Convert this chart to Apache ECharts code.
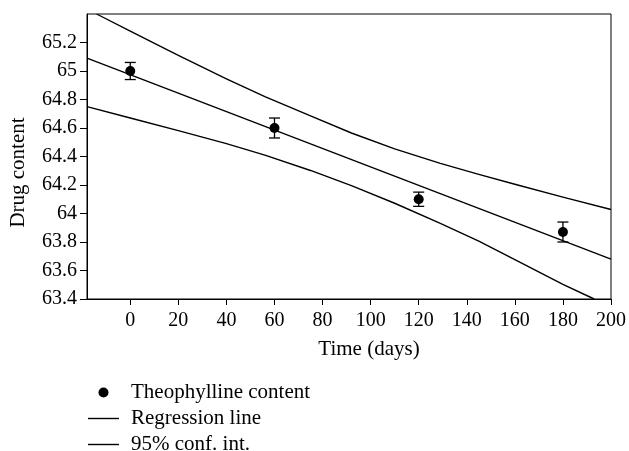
<!DOCTYPE html>
<html>
<head>
<meta charset="utf-8">
<script src="https://cdn.jsdelivr.net/npm/echarts@6/dist/echarts.min.js"></script>
<style>
html,body{margin:0;padding:0;background:#fff;}
#chart{width:629px;height:451px;}
</style>
</head>
<body>
<div id="chart"></div>
<script>
// Measured points
const days = [0, 60, 120, 180];
const content = [65.0, 64.6, 64.1, 63.87];
const errors = [0.06, 0.07, 0.05, 0.07];
// Regression line (read at plot edges)
const regX = [-18, 200];
const regY = [65.09, 63.68];
// 95% confidence band
const upperX = [-14, 0, 20, 40, 56, 75, 92, 110, 129, 145, 160, 180, 200];
const upperY = [65.4, 65.28, 65.11, 64.945, 64.82, 64.685, 64.565, 64.454, 64.352, 64.275, 64.205, 64.115, 64.028];
const lowerX = [-18, 0, 20, 40, 56, 75, 92, 110, 129, 145, 160, 180, 193];
const lowerY = [64.75, 64.67, 64.582, 64.49, 64.41, 64.302, 64.195, 64.072, 63.93, 63.806, 63.677, 63.503, 63.4];
// Tick labels
const xTicks = [0, 20, 40, 60, 80, 100, 120, 140, 160, 180, 200];
const yTicks = [63.4, 63.6, 63.8, 64, 64.2, 64.4, 64.6, 64.8, 65, 65.2];

const FONT = 'Liberation Serif';
const zip = (a, b) => a.map((v, i) => [v, b[i]]);
const LINE_ICON = 'path://M0,0H31V1.4H0Z';

const chart = echarts.init(document.getElementById('chart'));
chart.setOption({
  animation: false,
  backgroundColor: '#fff',
  textStyle: { fontFamily: FONT, color: '#000' },
  grid: { left: 87, right: 17, top: 14, height: 285, show: true, borderColor: '#000', borderWidth: 1 },
  xAxis: {
    type: 'value', min: -18, max: 200,
    name: 'Time (days)', nameLocation: 'middle', nameGap: 40,
    nameTextStyle: { fontFamily: FONT, fontSize: 21, color: '#000', padding: [0, 0, 0, 40] },
    axisLine: { onZero: false, lineStyle: { color: '#000', width: 1 } },
    axisTick: { show: true, length: 6, lineStyle: { color: '#000' }, customValues: xTicks },
    axisLabel: { fontFamily: FONT, fontSize: 20, color: '#000', margin: 12, customValues: xTicks },
    splitLine: { show: false }
  },
  yAxis: {
    type: 'value', min: 63.4, max: 65.4,
    name: 'Drug content', nameLocation: 'middle', nameGap: 58,
    nameTextStyle: { fontFamily: FONT, fontSize: 21, color: '#000', padding: [0, 32, 0, 0] },
    axisLine: { show: true, onZero: false, lineStyle: { color: '#000', width: 1 } },
    axisTick: { show: true, length: 7, lineStyle: { color: '#000' }, customValues: yTicks },
    axisLabel: { fontFamily: FONT, fontSize: 20, color: '#000', margin: 10, customValues: yTicks,
      formatter: v => String(parseFloat(Number(v).toFixed(2))) },
    splitLine: { show: false }
  },
  legend: {
    orient: 'vertical', left: 88, top: 382, height: 90, padding: 0,
    itemWidth: 31, itemHeight: 10, itemGap: 5,
    symbolKeepAspect: true,
    textStyle: { fontFamily: FONT, fontSize: 21, lineHeight: 21, color: '#000', padding: [0, 0, 0, 7] },
    data: [
      { name: 'Theophylline content', icon: 'circle' },
      { name: 'Regression line', icon: LINE_ICON },
      { name: '95% conf. int.', icon: LINE_ICON }
    ]
  },
  series: [
    {
      name: 'Regression line', type: 'line', symbol: 'none',
      data: zip(regX, regY),
      lineStyle: { color: '#000', width: 1.4 }, itemStyle: { color: '#000' }
    },
    {
      name: '95% conf. int.', type: 'line', symbol: 'none', smooth: false,
      data: zip(upperX, upperY),
      lineStyle: { color: '#000', width: 1.4, join: 'round' }, itemStyle: { color: '#000' }
    },
    {
      name: '95% conf. int.', type: 'line', symbol: 'none', smooth: false,
      data: zip(lowerX, lowerY),
      lineStyle: { color: '#000', width: 1.4, join: 'round' }, itemStyle: { color: '#000' }
    },
    {
      name: 'errbars', type: 'custom',
      data: days.map((d, i) => [d, content[i], errors[i]]),
      renderItem: (params, api) => {
        const x = api.value(0), y = api.value(1), e = api.value(2);
        const top = api.coord([x, y + e]);
        const bot = api.coord([x, y - e]);
        const hw = 5.5;
        const st = { stroke: '#000', lineWidth: 1.3 };
        return {
          type: 'group',
          children: [
            { type: 'line', shape: { x1: top[0], y1: top[1], x2: bot[0], y2: bot[1] }, style: st },
            { type: 'line', shape: { x1: top[0] - hw, y1: top[1], x2: top[0] + hw, y2: top[1] }, style: st },
            { type: 'line', shape: { x1: bot[0] - hw, y1: bot[1], x2: bot[0] + hw, y2: bot[1] }, style: st }
          ]
        };
      },
      z: 3
    },
    {
      name: 'Theophylline content', type: 'scatter', symbol: 'circle', symbolSize: 10,
      data: zip(days, content),
      itemStyle: { color: '#000', opacity: 1 }, z: 4
    }
  ]
});
</script>
</body>
</html>
